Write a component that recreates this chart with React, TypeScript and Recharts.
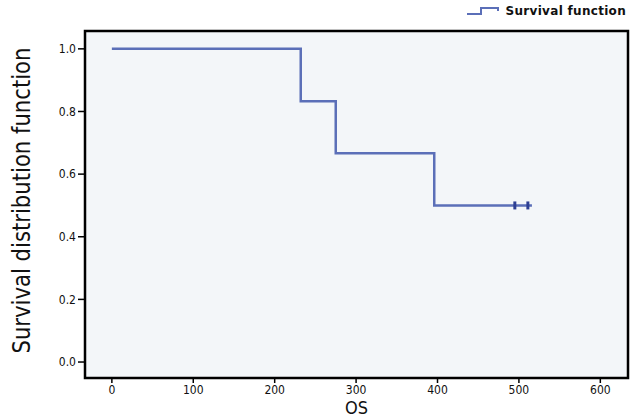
import { ComposedChart, Line, Scatter, XAxis, YAxis, ReferenceArea, Legend } from "recharts";

const times = [0, 232, 275, 396, 516];
const survival = [1.0, 0.833, 0.667, 0.5, 0.5];
const censoredTimes = [495, 511];
const censoredSurvival = [0.5, 0.5];
const xTicks = [0, 100, 200, 300, 400, 500, 600];
const yTicks = [0, 0.2, 0.4, 0.6, 0.8, 1.0];
const xDomain = [-33, 634];
const yDomain = [-0.051, 1.057];

const curve = times.map((t, i) => ({ t, s: survival[i] }));
const censored = censoredTimes.map((t, i) => ({ t, s: censoredSurvival[i] }));

const LINE = "#5b6fb8";
const FONT = "'DejaVu Sans Condensed', 'DejaVu Sans', sans-serif";

function CensorMark(props: any) {
  const { cx, cy } = props;
  return <line x1={cx} x2={cx} y1={cy - 4} y2={cy + 4} stroke="#2d3f93" strokeWidth={3} />;
}

function YLabel(props: any) {
  const vb = props.viewBox;
  const cy = vb.y + vb.height / 2 - 4;
  return (
    <text
      x={21}
      y={cy}
      transform={`rotate(-90 21 ${cy})`}
      textAnchor="middle"
      dominantBaseline="central"
      fontFamily={FONT}
      fontSize={25}
      fill="#111"
      textLength={306}
      lengthAdjust="spacingAndGlyphs"
    >
      Survival distribution function
    </text>
  );
}

function LegendBox() {
  return (
    <div style={{ display: "flex", alignItems: "center", fontFamily: "'DejaVu Sans', sans-serif", fontWeight: "bold", fontSize: 12, color: "#111", height: 14 }}>
      <svg width={34} height={12} style={{ marginRight: 6 }}>
        <polyline points="1,9 15,9 15,3 32,3 32,6" fill="none" stroke={LINE} strokeWidth={2} />
      </svg>
      <span style={{ letterSpacing: 0.3 }}>Survival function</span>
    </div>
  );
}

export default function App() {
  return (
    <div style={{ position: "absolute", left: 0, top: 0, width: 634, height: 419, background: "#fff" }}>
      <ComposedChart width={634} height={419} margin={{ top: 17, right: 6, bottom: 16, left: 25 }}>
        <ReferenceArea
          x1={xDomain[0]}
          x2={xDomain[1]}
          y1={yDomain[0]}
          y2={yDomain[1]}
          fill="#f3f6f9"
          fillOpacity={1}
          stroke="#000"
          strokeWidth={2.5}
          ifOverflow="visible"
        />
        <XAxis
          dataKey="t"
          type="number"
          domain={xDomain}
          ticks={xTicks}
          allowDataOverflow
          height={25}
          axisLine={false}
          tickLine={{ stroke: "#000", strokeWidth: 1.5 }}
          tickSize={5}
          tick={{ fontFamily: FONT, fontSize: 12, fill: "#111" }}
          label={{ value: "OS", position: "insideBottom", offset: -11, fontFamily: FONT, fontSize: 18, fill: "#111" }}
        />
        <YAxis
          dataKey="s"
          type="number"
          domain={yDomain}
          ticks={yTicks}
          allowDataOverflow
          width={60}
          axisLine={false}
          tickLine={{ stroke: "#000", strokeWidth: 1.5 }}
          tickSize={7}
          tickFormatter={(v) => Number(v).toFixed(1)}
          tick={{ fontFamily: FONT, fontSize: 12, fill: "#111" }}
          label={<YLabel />}
        />
        <Legend verticalAlign="top" align="right" content={<LegendBox />} wrapperStyle={{ top: 4, right: 8, width: "auto", left: "auto" }} />
        <Line
          data={curve}
          dataKey="s"
          type="stepAfter"
          stroke={LINE}
          strokeWidth={2.5}
          dot={false}
          activeDot={false}
          isAnimationActive={false}
        />
        <Scatter data={censored} dataKey="s" shape={<CensorMark />} isAnimationActive={false} legendType="none" />
      </ComposedChart>
    </div>
  );
}
